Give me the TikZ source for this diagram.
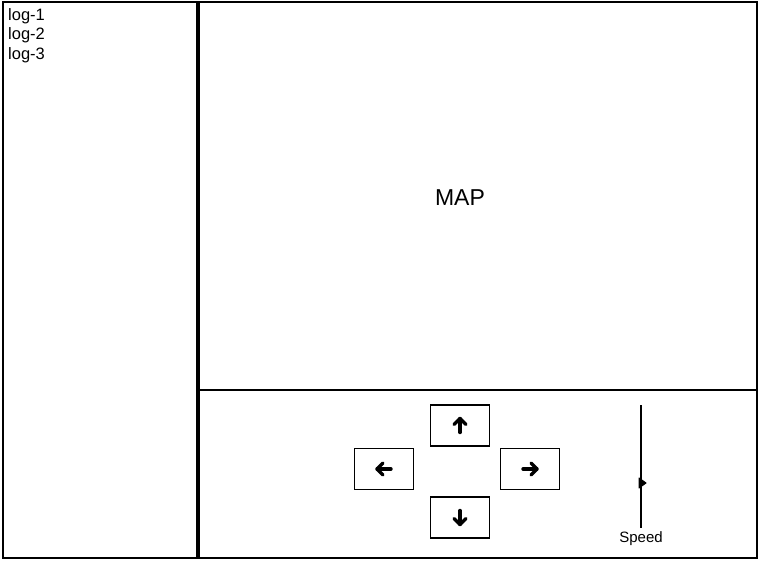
\documentclass[tikz,border=0pt]{standalone}
\usepackage{fontspec}
\setmainfont{Liberation Sans}
\begin{document}
\begin{tikzpicture}[x=1pt,y=-1pt,
  frame/.style={draw=black,line width=2pt},
  btn/.style={draw=black,line width=1.8pt,minimum width=59pt,minimum height=41pt,inner sep=0pt},
  glyph/.style={line width=3.4pt,line cap=round,line join=round},
  logtxt/.style={anchor=base west,font=\fontsize{16.5}{18}\selectfont,inner sep=0pt}]
\useasboundingbox (0,0) rectangle (760,560);
\fill[white] (0,0) rectangle (760,560);
% panels
\node[frame,minimum width=194pt,minimum height=556pt,inner sep=0pt,anchor=north west] (logs) at (2,1) {};
\node[frame,minimum width=558pt,minimum height=388pt,inner sep=0pt,anchor=north west] (map) at (198,1) {};
\node[frame,minimum width=558pt,minimum height=168pt,inner sep=0pt,anchor=north west] (ctrl) at (198,389) {};
\node[font=\fontsize{23}{26}\selectfont] (maplabel) at (460,198) {MAP};
% logs
\node[logtxt] (l1) at (8,20) {log-1};
\node[logtxt] (l2) at (8,39) {log-2};
\node[logtxt] (l3) at (8,59) {log-3};
% buttons
\node[btn] (up) at (460,425.5) {};
\node[btn] (left) at (384,469) {};
\node[btn] (right) at (530,469) {};
\node[btn] (down) at (460,517.5) {};
% arrow glyphs (yshift positive = upward)
\draw[glyph] ([yshift=-7]up.center) -- ([yshift=7]up.center);
\draw[glyph] ([xshift=-6,yshift=1]up.center) -- ([yshift=7]up.center) -- ([xshift=6,yshift=1]up.center);
\draw[glyph] ([yshift=7]down.center) -- ([yshift=-7]down.center);
\draw[glyph] ([xshift=-6,yshift=-1]down.center) -- ([yshift=-7]down.center) -- ([xshift=6,yshift=-1]down.center);
\draw[glyph] ([xshift=7]left.center) -- ([xshift=-7]left.center);
\draw[glyph] ([xshift=-1,yshift=-6]left.center) -- ([xshift=-7]left.center) -- ([xshift=-1,yshift=6]left.center);
\draw[glyph] ([xshift=-7]right.center) -- ([xshift=7]right.center);
\draw[glyph] ([xshift=1,yshift=-6]right.center) -- ([xshift=7]right.center) -- ([xshift=1,yshift=6]right.center);
% speed slider
\coordinate (s1) at (641,405);
\coordinate (s2) at (641,528);
\draw[line width=1.8pt] (s1) -- (s2);
\coordinate (knob) at (641,483);
\fill[draw,line width=1pt,line join=round] ([xshift=-2,yshift=-5]knob) -- ([xshift=5]knob) -- ([xshift=-2,yshift=5]knob) -- cycle;
\node[font=\fontsize{15}{17}\selectfont] (speed) at (641,539) {Speed};
\end{tikzpicture}
\end{document}
